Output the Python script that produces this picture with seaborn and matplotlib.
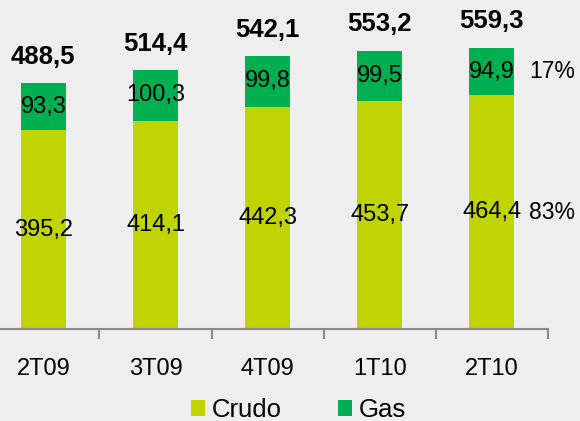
"""
Produccion por trimestre: crudo y gas (barras apiladas).
"""

import matplotlib.pyplot as plt
import pandas as pd
import seaborn as sns
from matplotlib.patches import Patch

# Data
quarters = ['2T09', '3T09', '4T09', '1T10', '2T10']
crudo = [395.2, 414.1, 442.3, 453.7, 464.4]
gas = [93.3, 100.3, 99.8, 99.5, 94.9]
totals = [488.5, 514.4, 542.1, 553.2, 559.3]
share_labels = ['83%', '17%']  # crudo, gas share in the last quarter

CRUDO_COLOR = '#BFD400'
GAS_COLOR = '#00B050'
BG = '#EEEEEE'


def fmt(v):
    return f'{v:.1f}'.replace('.', ',')


def main():
    sns.set_theme(style='white')
    plt.rcParams['font.family'] = ['Liberation Sans', 'DejaVu Sans']
    plt.rcParams['text.color'] = 'black'
    plt.rcParams['xtick.color'] = '#8C8C8C'
    plt.rcParams['xtick.labelcolor'] = 'black'

    df = pd.DataFrame({'quarter': quarters, 'crudo': crudo, 'gas': gas, 'total': totals})
    df['stack'] = df['crudo'] + df['gas']

    fig = plt.figure(figsize=(5.8, 4.21), dpi=100, facecolor=BG)
    ax = fig.add_axes([-0.0219, 0.2185, 0.9667, 0.7169])
    ax.set_facecolor(BG)

    # stacked: draw full height in gas colour, then crudo on top of it
    sns.barplot(data=df, x='quarter', y='stack', color=GAS_COLOR, saturation=1,
                width=0.4, ax=ax, linewidth=0)
    sns.barplot(data=df, x='quarter', y='crudo', color=CRUDO_COLOR, saturation=1,
                width=0.4, ax=ax, linewidth=0)

    ax.set_xlim(-0.5, len(quarters) - 0.5)
    ax.set_ylim(0, 600)
    ax.set_xlabel('')
    ax.set_ylabel('')
    ax.set_yticks([])

    for side in ['top', 'right', 'left']:
        ax.spines[side].set_visible(False)
    ax.spines['bottom'].set_color('#8C8C8C')
    ax.spines['bottom'].set_linewidth(1.5)

    # tick marks between categories, labels at centers
    ax.set_xticks(range(len(quarters)))
    ax.set_xticklabels(quarters, fontsize=17, color='black')
    ax.tick_params(axis='x', which='major', length=0, pad=21)
    ax.set_xticks([i + 0.5 for i in range(-1, len(quarters))], minor=True)
    ax.tick_params(axis='x', which='minor', bottom=True, length=7, width=1.5,
                   color='#8C8C8C', direction='out')

    # value labels
    for i, (c, g, t) in enumerate(zip(crudo, gas, totals)):
        ax.text(i, c / 2, fmt(c), ha='center', va='center', fontsize=17, color='black')
        ax.text(i, c + g / 2, fmt(g), ha='center', va='center', fontsize=17, color='black')
        ax.annotate(fmt(t), (i, c + g), xytext=(0, 19), textcoords='offset points',
                    ha='center', va='center', fontsize=18.5, fontweight='bold',
                    color='black')

    # share of the last quarter
    last = len(quarters) - 1
    ax.text(last + 0.54, crudo[last] / 2, share_labels[0], ha='center', va='center',
            fontsize=16.5, color='black')
    ax.text(last + 0.54, crudo[last] + gas[last] / 2, share_labels[1], ha='center',
            va='center', fontsize=16.5, color='black')

    handles = [Patch(facecolor=CRUDO_COLOR, edgecolor='none', label='Crudo'),
               Patch(facecolor=GAS_COLOR, edgecolor='none', label='Gas')]
    leg = fig.legend(handles=handles, loc='center', bbox_to_anchor=(0.515, 0.026), ncol=2,
                     frameon=False, fontsize=18.5, handlelength=0.55, handleheight=0.55,
                     handletextpad=0.25, columnspacing=2.2, borderpad=0)
    for txt in leg.get_texts():
        txt.set_color('black')

    fig.savefig('out.png', dpi=100, facecolor=BG)
    plt.close(fig)


if __name__ == '__main__':
    main()
